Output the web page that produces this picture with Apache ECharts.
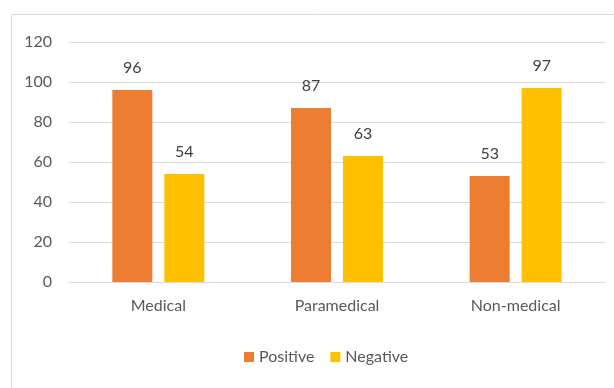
<!DOCTYPE html>
<html>
<head>
<meta charset="utf-8">
<script src="https://cdn.jsdelivr.net/npm/echarts@6/dist/echarts.min.js"></script>
<style>
  html, body { margin: 0; padding: 0; background: #fff; }
  #chart { width: 614px; height: 388px; }
</style>
</head>
<body>
<div id="chart"></div>
<script>
var categories = ['Medical', 'Paramedical', 'Non-medical'];
var positive = [96, 87, 53];
var negative = [54, 63, 97];
var yTicks = [0, 20, 40, 60, 80, 100, 120];

var myChart = echarts.init(document.getElementById('chart'));

var fontName = 'Lato';

var option = {
    animation: false,
    graphic: [{
        type: 'rect',
        shape: { x: 11.5, y: 14.5, width: 640, height: 420 },
        style: { fill: 'none', stroke: '#d9d9d9', lineWidth: 1 },
        silent: true
    }],
    legend: {
        data: ['Positive', 'Negative'],
        bottom: 18,
        left: 239,
        itemWidth: 10,
        itemHeight: 10,
        itemGap: 16,
        icon: 'rect',
        textStyle: { color: '#595959', fontSize: 16, fontFamily: fontName }
    },
    grid: {
        left: 69,
        right: 9,
        top: 42,
        bottom: 106
    },
    xAxis: [{
        type: 'category',
        data: categories,
        axisTick: { show: false },
        axisLine: { lineStyle: { color: '#d9d9d9' } },
        axisLabel: { color: '#595959', fontSize: 16, fontFamily: fontName, margin: 16 }
    }],
    yAxis: [{
        type: 'value',
        min: yTicks[0],
        max: yTicks[yTicks.length - 1],
        interval: 20,
        axisLine: { show: false },
        axisTick: { show: false },
        splitLine: { lineStyle: { color: '#d9d9d9' } },
        axisLabel: { color: '#595959', fontSize: 16, fontFamily: fontName, margin: 17 }
    }],
    series: [
        {
            name: 'Positive',
            type: 'bar',
            data: positive,
            barWidth: 40,
            barGap: '30%',
            itemStyle: { color: '#ED7D31' },
            label: { show: true, position: 'top', distance: 14, color: '#404040', fontSize: 16, fontFamily: fontName }
        },
        {
            name: 'Negative',
            type: 'bar',
            data: negative,
            barWidth: 40,
            itemStyle: { color: '#FFC000' },
            label: { show: true, position: 'top', distance: 14, color: '#404040', fontSize: 16, fontFamily: fontName }
        }
    ]
};

myChart.setOption(option);
</script>
</body>
</html>
